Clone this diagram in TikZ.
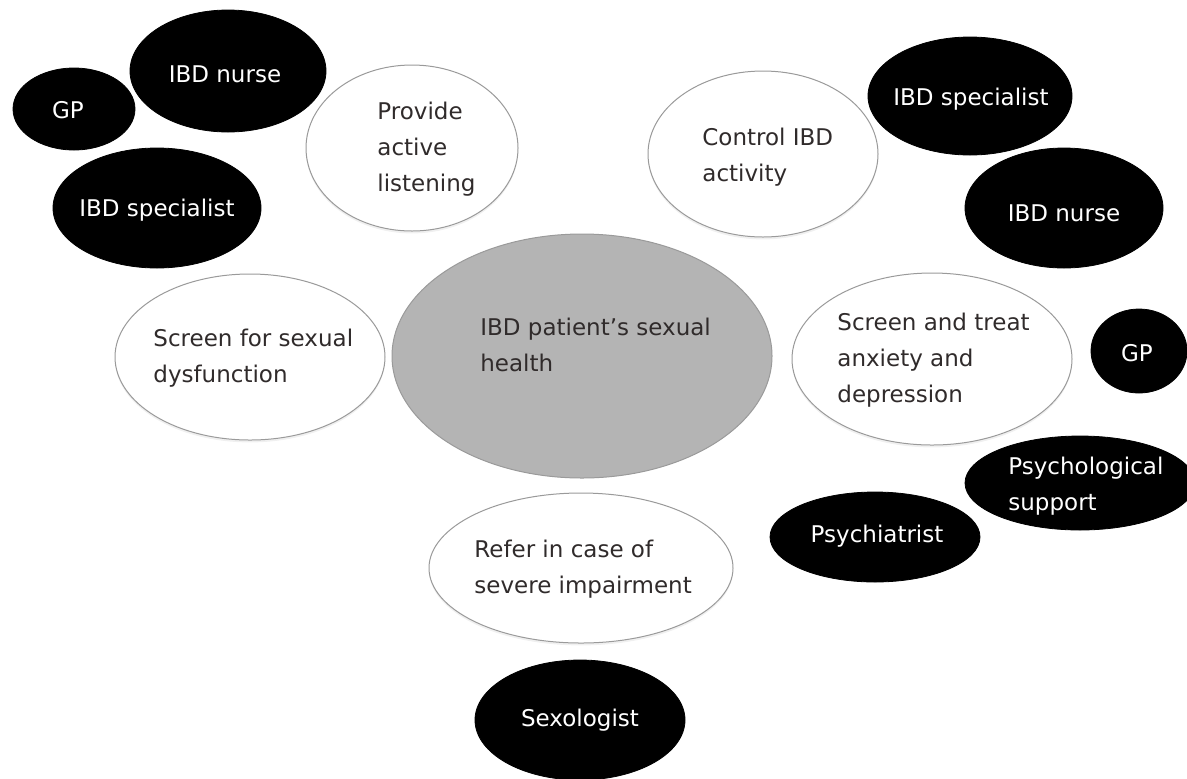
\documentclass[tikz,border=0pt]{standalone}
\usepackage{fontspec}
\setmainfont{DejaVu Sans}
\usetikzlibrary{shapes.geometric,shadows}
\definecolor{CoreGray}{HTML}{B4B4B4}
\definecolor{RimGray}{HTML}{9A9A9A}
\definecolor{InkGray}{HTML}{302B2B}

\begin{document}
\begin{tikzpicture}[x=0.5pt,y=-0.5pt,
  role/.style={ellipse,fill=black,draw=black,inner sep=0pt},
  task/.style={ellipse,fill=white,draw=RimGray,line width=0.5pt,inner sep=0pt,
    drop shadow={opacity=0.12,shadow xshift=0pt,shadow yshift=-1.2pt}},
  core/.style={ellipse,fill=CoreGray,draw=RimGray,line width=0.5pt,inner sep=0pt},
  who/.style={text=white,font=\fontsize{11.5}{18}\selectfont,align=left,inner sep=0pt},
  what/.style={text=InkGray,font=\fontsize{11.5}{18}\selectfont,align=left,inner sep=0pt,anchor=west}]
\useasboundingbox (0,0) rectangle (1187,778);
% Care team, top left
\node[role,minimum width=61pt,minimum height=41pt] (gpA) at (74,109) {};
\node[role,minimum width=98pt,minimum height=61pt] (nurseA) at (228,71) {};
\node[role,minimum width=104pt,minimum height=60pt] (specA) at (157,208) {};
\node[who] (gpAtxt) at (68,110) {GP};
\node[who] (nurseAtxt) at (225,74) {IBD nurse};
\node[who] (specAtxt) at (157,210) {IBD specialist};
% Care team, right and bottom
\node[role,minimum width=102pt,minimum height=59pt] (specB) at (970,96) {};
\node[role,minimum width=99pt,minimum height=60pt] (nurseB) at (1064,208) {};
\node[role,minimum width=48pt,minimum height=42pt] (gpB) at (1139,351) {};
\node[role,minimum width=115pt,minimum height=47pt] (support) at (1080,483) {};
\node[role,minimum width=105pt,minimum height=45pt] (psych) at (875,537) {};
\node[role,minimum width=105pt,minimum height=60pt] (sexo) at (580,720) {};
\node[who] (specBtxt) at (971,99) {IBD specialist};
\node[who] (nurseBtxt) at (1064,213) {IBD nurse};
\node[who] (gpBtxt) at (1137,353) {GP};
\node[who,anchor=west] (supporttxt) at (1008,486) {Psychological\\support};
\node[who] (psychtxt) at (877,536) {Psychiatrist};
\node[who] (sexotxt) at (580,720) {Sexologist};
% Tasks around the patient
\node[task,minimum width=106pt,minimum height=83pt] (listen) at (412,148) {};
\node[task,minimum width=115pt,minimum height=83pt] (control) at (763,154) {};
\node[task,minimum width=135pt,minimum height=83pt] (screen) at (250,357) {};
\node[task,minimum width=140pt,minimum height=86pt] (mood) at (932,359) {};
\node[task,minimum width=152pt,minimum height=75pt] (refer) at (581,568) {};
\node[core,minimum width=190pt,minimum height=122pt] (patient) at (582,356) {};
\node[what] (listentxt) at (377,149) {Provide\\active\\listening};
\node[what] (controltxt) at (702,157) {Control IBD\\activity};
\node[what] (screentxt) at (153,358) {Screen for sexual\\dysfunction};
\node[what] (moodtxt) at (837,360) {Screen and treat\\anxiety and\\depression};
\node[what] (refertxt) at (474,569) {Refer in case of\\severe impairment};
\node[what] (patienttxt) at (480,345) {IBD patient’s sexual\\health};
\end{tikzpicture}
\end{document}
